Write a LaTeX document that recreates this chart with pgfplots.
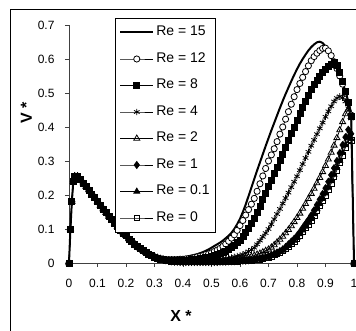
\documentclass[border=0pt]{standalone}
\usepackage{pgfplots}
\pgfplotsset{compat=1.18}
\usepackage{pgfplotstable}
\usepackage{fontspec}
\setmainfont{Liberation Sans}
\pgfplotstableread{
x     r15   r12   r8    r4    r2    r1    r01   r0
0.000 0     0     0     0     0     0     0     0
0.005 0.100 0.100 0.100 0.100 0.100 0.100 0.100 0.100
0.010 0.180 0.180 0.180 0.180 0.180 0.180 0.180 0.180
0.015 0.240 0.240 0.240 0.240 0.240 0.240 0.240 0.240
0.020 0.255 0.255 0.255 0.255 0.255 0.255 0.255 0.255
0.030 0.255 0.255 0.255 0.255 0.255 0.255 0.255 0.255
0.040 0.245 0.245 0.245 0.245 0.245 0.245 0.245 0.245
0.050 0.235 0.235 0.235 0.235 0.235 0.235 0.235 0.235
0.060 0.225 0.225 0.225 0.225 0.225 0.225 0.225 0.225
0.070 0.215 0.215 0.215 0.215 0.215 0.215 0.215 0.215
0.080 0.203 0.203 0.203 0.203 0.203 0.203 0.203 0.203
0.090 0.192 0.192 0.192 0.192 0.192 0.192 0.192 0.192
0.100 0.181 0.181 0.181 0.181 0.181 0.181 0.181 0.181
0.110 0.170 0.170 0.170 0.170 0.170 0.170 0.170 0.170
0.120 0.159 0.159 0.159 0.159 0.159 0.159 0.159 0.159
0.130 0.148 0.148 0.148 0.148 0.148 0.148 0.148 0.148
0.140 0.137 0.137 0.137 0.137 0.137 0.137 0.137 0.137
0.150 0.127 0.127 0.127 0.127 0.127 0.127 0.127 0.127
0.160 0.117 0.117 0.117 0.117 0.117 0.117 0.117 0.117
0.170 0.107 0.107 0.107 0.107 0.107 0.107 0.107 0.107
0.180 0.097 0.097 0.097 0.097 0.097 0.097 0.097 0.097
0.190 0.088 0.088 0.088 0.088 0.088 0.088 0.088 0.088
0.200 0.080 0.080 0.080 0.080 0.080 0.080 0.080 0.080
0.210 0.071 0.071 0.071 0.071 0.071 0.071 0.071 0.071
0.220 0.063 0.063 0.063 0.063 0.063 0.063 0.063 0.063
0.230 0.056 0.056 0.056 0.056 0.056 0.056 0.056 0.056
0.240 0.049 0.049 0.049 0.049 0.049 0.049 0.049 0.049
0.250 0.043 0.043 0.043 0.043 0.043 0.043 0.043 0.043
0.260 0.037 0.037 0.037 0.037 0.037 0.037 0.037 0.037
0.270 0.031 0.031 0.031 0.031 0.031 0.031 0.031 0.031
0.280 0.026 0.026 0.026 0.026 0.026 0.026 0.026 0.026
0.290 0.022 0.022 0.022 0.022 0.022 0.022 0.022 0.022
0.300 0.018 0.018 0.018 0.018 0.018 0.018 0.018 0.018
0.31 0.016 0.015 0.015 0.015 0.015 0.015 0.015 0.015
0.32 0.014 0.013 0.012 0.012 0.012 0.012 0.012 0.012
0.33 0.013 0.011 0.010 0.010 0.010 0.010 0.010 0.010
0.34 0.013 0.010 0.009 0.008 0.008 0.008 0.008 0.008
0.35 0.013 0.010 0.008 0.007 0.007 0.006 0.006 0.006
0.36 0.013 0.010 0.007 0.006 0.006 0.005 0.005 0.005
0.37 0.014 0.010 0.007 0.006 0.005 0.004 0.004 0.004
0.38 0.015 0.010 0.007 0.005 0.005 0.004 0.004 0.004
0.39 0.016 0.011 0.007 0.005 0.004 0.003 0.003 0.003
0.40 0.017 0.011 0.008 0.005 0.004 0.003 0.003 0.003
0.41 0.018 0.012 0.008 0.005 0.004 0.003 0.003 0.003
0.42 0.020 0.013 0.009 0.006 0.004 0.003 0.003 0.003
0.43 0.022 0.014 0.010 0.006 0.004 0.003 0.003 0.003
0.44 0.024 0.016 0.011 0.006 0.004 0.003 0.003 0.003
0.45 0.026 0.018 0.012 0.006 0.004 0.003 0.003 0.003
0.46 0.029 0.020 0.013 0.007 0.005 0.003 0.003 0.003
0.47 0.032 0.022 0.015 0.007 0.005 0.003 0.003 0.003
0.48 0.036 0.025 0.016 0.007 0.005 0.003 0.003 0.003
0.49 0.040 0.027 0.018 0.008 0.005 0.003 0.003 0.003
0.50 0.045 0.030 0.020 0.008 0.005 0.003 0.003 0.003
0.51 0.050 0.034 0.022 0.009 0.005 0.003 0.003 0.003
0.52 0.055 0.038 0.025 0.010 0.005 0.003 0.003 0.003
0.53 0.060 0.043 0.028 0.011 0.006 0.004 0.003 0.003
0.54 0.066 0.049 0.031 0.012 0.006 0.004 0.004 0.004
0.55 0.073 0.056 0.035 0.013 0.007 0.004 0.004 0.004
0.56 0.080 0.064 0.040 0.014 0.007 0.005 0.004 0.004
0.57 0.089 0.073 0.046 0.016 0.008 0.005 0.005 0.005
0.58 0.100 0.083 0.052 0.018 0.009 0.005 0.005 0.005
0.59 0.114 0.096 0.060 0.020 0.010 0.006 0.005 0.005
0.60 0.130 0.110 0.068 0.022 0.011 0.006 0.006 0.006
0.61 0.150 0.125 0.078 0.025 0.013 0.007 0.006 0.006
0.62 0.172 0.141 0.090 0.029 0.015 0.007 0.007 0.007
0.63 0.197 0.157 0.103 0.034 0.017 0.008 0.007 0.007
0.64 0.222 0.173 0.116 0.039 0.019 0.009 0.008 0.008
0.65 0.247 0.190 0.130 0.045 0.022 0.010 0.009 0.009
0.66 0.272 0.211 0.148 0.055 0.025 0.012 0.011 0.010
0.67 0.296 0.233 0.167 0.066 0.028 0.013 0.012 0.011
0.68 0.320 0.256 0.186 0.077 0.032 0.015 0.014 0.013
0.69 0.344 0.278 0.206 0.088 0.036 0.017 0.016 0.015
0.70 0.367 0.300 0.225 0.100 0.040 0.020 0.018 0.017
0.71 0.390 0.318 0.244 0.114 0.046 0.023 0.021 0.020
0.72 0.412 0.336 0.263 0.129 0.053 0.027 0.025 0.024
0.73 0.434 0.357 0.282 0.144 0.061 0.031 0.029 0.027
0.74 0.456 0.379 0.301 0.159 0.069 0.035 0.033 0.031
0.75 0.477 0.400 0.320 0.175 0.078 0.040 0.037 0.035
0.76 0.497 0.423 0.340 0.191 0.088 0.047 0.044 0.042
0.77 0.516 0.445 0.360 0.207 0.098 0.055 0.051 0.049
0.78 0.535 0.467 0.380 0.223 0.109 0.063 0.059 0.056
0.79 0.553 0.489 0.400 0.239 0.121 0.071 0.066 0.063
0.80 0.570 0.510 0.420 0.255 0.133 0.080 0.074 0.071
0.81 0.586 0.528 0.439 0.273 0.146 0.091 0.085 0.081
0.82 0.600 0.546 0.458 0.291 0.160 0.103 0.096 0.092
0.83 0.613 0.563 0.476 0.309 0.174 0.115 0.107 0.103
0.84 0.625 0.580 0.493 0.327 0.189 0.127 0.118 0.114
0.85 0.635 0.595 0.510 0.345 0.204 0.140 0.130 0.125
0.86 0.643 0.607 0.524 0.362 0.219 0.155 0.144 0.139
0.87 0.649 0.617 0.537 0.379 0.235 0.171 0.159 0.154
0.88 0.651 0.625 0.549 0.396 0.251 0.187 0.174 0.168
0.89 0.647 0.631 0.560 0.413 0.268 0.203 0.189 0.183
0.90 0.637 0.632 0.570 0.430 0.286 0.220 0.205 0.199
0.91 0.622 0.624 0.578 0.446 0.305 0.239 0.222 0.216
0.92 0.605 0.610 0.585 0.461 0.325 0.259 0.241 0.234
0.93 0.588 0.592 0.590 0.475 0.346 0.279 0.260 0.253
0.94 0.569 0.572 0.582 0.485 0.368 0.300 0.280 0.273
0.95 0.550 0.550 0.560 0.490 0.391 0.323 0.301 0.295
0.96 0.530 0.526 0.535 0.486 0.415 0.347 0.324 0.317
0.97 0.505 0.500 0.505 0.475 0.438 0.370 0.347 0.340
0.98 0.475 0.470 0.472 0.455 0.452 0.392 0.370 0.363
0.99 0.440 0.435 0.432 0.425 0.430 0.380 0.365 0.360
1.00 0     0     0     0     0     0     0     0
}\datatable

\begin{document}
\begin{tikzpicture}[x=1pt,y=1pt]
\draw[line width=0.8pt] (10.5,321.5) rectangle (420,-40);
\begin{axis}[
  at={(69pt,68pt)}, anchor=south west,
  scale only axis, width=285pt, height=238pt,
  xmin=0, xmax=1, ymin=0, ymax=0.7,
  axis x line=bottom, axis y line=left,
  axis line style={-, line width=0.7pt, black!75},
  xtick={0,0.1,0.2,0.3,0.4,0.5,0.6,0.7,0.8,0.9,1},
  ytick={0,0.1,0.2,0.3,0.4,0.5,0.6,0.7},
  tick align=outside, major tick length=4pt,
  tick style={line width=0.7pt, black!75},
  /pgf/number format/assume math mode=true,
  /pgf/number format/.cd, fixed, precision=1, /pgfplots/.cd,
  ticklabel style={font=\fontsize{12}{12}\selectfont},
  yticklabel style={xshift=-7pt},
  xticklabel style={yshift=-9pt},
  xlabel={X *}, ylabel={V *},
  xlabel style={at={(axis description cs:0.393,-0.222)}, anchor=center, font=\fontsize{16}{16}\selectfont\bfseries},
  ylabel style={at={(axis description cs:-0.15,0.63)}, anchor=center, font=\fontsize{16}{16}\selectfont\bfseries},
  clip=false,
  legend cell align=left,
  legend image code/.code={\draw[mark repeat=2,mark phase=2,#1] plot coordinates {(0pt,0pt) (16.5pt,0pt) (33pt,0pt)};},
  legend style={at={(0.161,1.029)}, anchor=north west, draw=black, line width=0.8pt,
    inner xsep=4pt, inner ysep=5.5pt, row sep=9.5pt,
    font=\fontsize{14}{14}\selectfont,
    nodes={inner sep=2pt, text height=10pt, text depth=3pt}},
]
\addplot[black, line width=2pt, no markers] table[x=x,y=r15]{\datatable};
\addlegendentry{Re = 15}
\addplot[black, line width=0.7pt, mark=*, mark size=3.1pt, mark options={fill=white, line width=0.8pt}] table[x=x,y=r12]{\datatable};
\addlegendentry{Re = 12}
\addplot[black, line width=0.7pt, mark=square*, mark size=3pt] table[x=x,y=r8]{\datatable};
\addlegendentry{Re = 8}
\addplot[black, line width=0.7pt, mark=asterisk, mark size=3.2pt, mark options={line width=0.8pt}] table[x=x,y=r4]{\datatable};
\addlegendentry{Re = 4}
\addplot[black, line width=0.7pt, mark=triangle, mark size=3.5pt, mark options={line width=0.8pt}] table[x=x,y=r2]{\datatable};
\addlegendentry{Re = 2}
\addplot[black, line width=0.7pt, mark=diamond*, mark size=3.6pt] table[x=x,y=r1]{\datatable};
\addlegendentry{Re = 1}
\addplot[black, line width=0.7pt, mark=triangle*, mark size=3.5pt] table[x=x,y=r01]{\datatable};
\addlegendentry{Re = 0.1}
\addplot[black, line width=0.7pt, mark=square, mark size=2.8pt, mark options={line width=0.8pt}] table[x=x,y=r0]{\datatable};
\addlegendentry{Re = 0}
\end{axis}
\pgfresetboundingbox
\path[use as bounding box] (0,0) rectangle (356,331);
\end{tikzpicture}
\end{document}
